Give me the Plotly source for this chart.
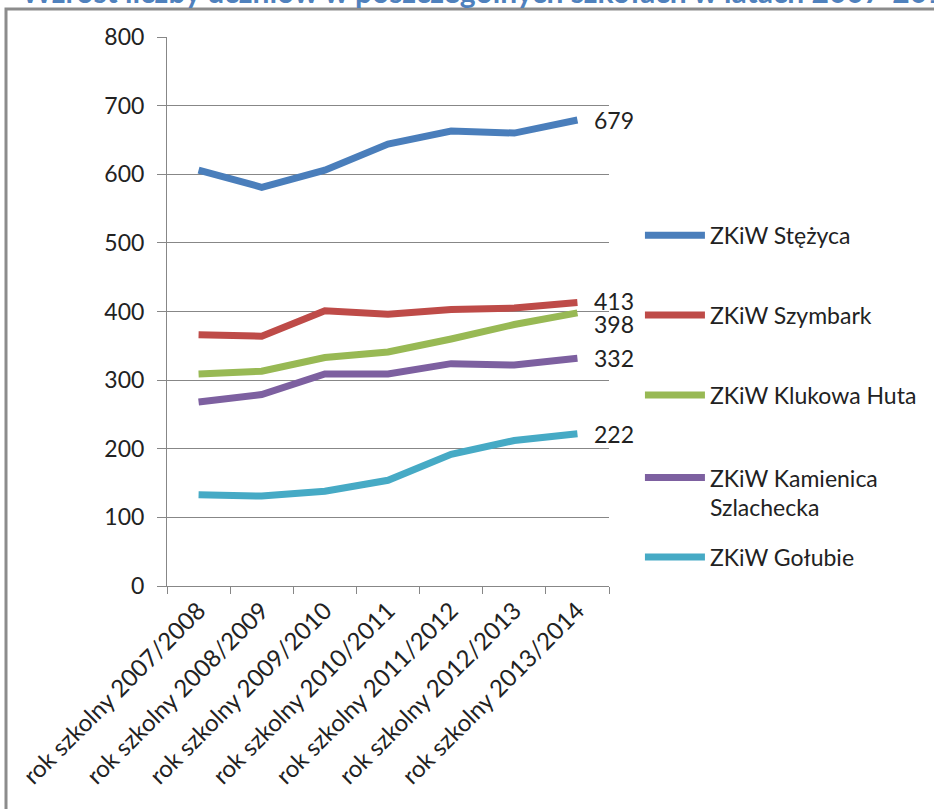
import plotly.graph_objects as go

categories = ["rok szkolny 2007/2008", "rok szkolny 2008/2009", "rok szkolny 2009/2010",
              "rok szkolny 2010/2011", "rok szkolny 2011/2012", "rok szkolny 2012/2013",
              "rok szkolny 2013/2014"]

stezyca = [606, 581, 606, 644, 663, 660, 679]
szymbark = [366, 364, 401, 396, 403, 405, 413]
klukowa = [309, 313, 333, 341, 360, 381, 398]
kamienica = [268, 279, 309, 309, 324, 322, 332]
golubie = [133, 131, 138, 154, 192, 212, 222]

names = ["ZKiW Stężyca", "ZKiW Szymbark", "ZKiW Klukowa Huta",
         "ZKiW Kamienica<br>Szlachecka", "ZKiW Gołubie"]
series = [stezyca, szymbark, klukowa, kamienica, golubie]
y_ticks = [0, 100, 200, 300, 400, 500, 600, 700, 800]
title_text = "- Wzrost liczby uczniów w poszczególnych szkołach w latach 2007-2014"

colors = ["#4A7EBB", "#BE4B48", "#98B954", "#7D60A0", "#46AAC5"]
label_yshift = [0, 2, -11, 0, 0]
legend_y = [0.639, 0.4936, 0.3479, 0.170, 0.0528]
FONT = "Lato, 'Open Sans', sans-serif"

fig = go.Figure()
legend_keys = ["legend", "legend2", "legend3", "legend4", "legend5"]
for i, (nm, vals) in enumerate(zip(names, series)):
    fig.add_trace(go.Scatter(
        x=categories, y=vals, mode="lines", name=nm,
        line=dict(color=colors[i], width=7),
        legend=legend_keys[i],
    ))
    fig.add_annotation(x=categories[-1], y=vals[-1], text=str(vals[-1]),
                       xanchor="left", yanchor="middle", xshift=15, yshift=label_yshift[i],
                       showarrow=False, font=dict(size=23, color="#222222", family=FONT))

layout_legends = {}
for i, k in enumerate(legend_keys):
    layout_legends[k] = dict(
        x=1.07, y=legend_y[i], xanchor="left", yanchor="middle",
        font=dict(size=23, color="#222222", family=FONT),
        bgcolor="rgba(0,0,0,0)", itemwidth=60,
        valign="top" if i == 3 else "middle",
        tracegroupgap=0,
    )

fig.update_layout(
    width=934, height=809,
    margin=dict(l=167, r=325, t=37, b=223),
    paper_bgcolor="white", plot_bgcolor="white",
    font=dict(family=FONT, color="#222222"),
    showlegend=True,
    **layout_legends,
)

fig.update_xaxes(
    type="category", range=[-0.5, 6.5],
    tickson="boundaries", ticks="outside", ticklen=7, tickcolor="#878787",
    showline=True, linecolor="#878787", linewidth=1,
    showgrid=False, tickangle=-45,
    tickfont=dict(size=24, color="#222222", family=FONT),
)
fig.update_yaxes(
    range=[0, 800], tickvals=y_ticks,
    ticks="outside", ticklen=9, tickcolor="#878787",
    showline=True, linecolor="#878787", linewidth=1,
    showgrid=True, gridcolor="#878787", gridwidth=1,
    zeroline=False, ticklabelstandoff=8,
    tickfont=dict(size=23, color="#222222", family=FONT),
)

# outer frame
fig.add_shape(type="rect", xref="paper", yref="paper",
              x0=(6 - 167) / 442, x1=(960 - 167) / 442,
              y0=-0.5, y1=1 + (37 - 9) / 549,
              line=dict(color="#8C8C8C", width=3), fillcolor="rgba(0,0,0,0)", layer="below")

# cropped title
fig.add_annotation(xref="paper", yref="paper", x=(482 - 167) / 442, y=1 + (37 - 11) / 549,
                   xanchor="center", yanchor="bottom", showarrow=False, text="<b>" + title_text + "</b>",
                   font=dict(size=30, color="#4F81BD", family=FONT))

fig.write_html("out.html", config={"displayModeBar": False},
               post_script="document.body.style.margin='0';document.body.style.overflow='hidden';")
